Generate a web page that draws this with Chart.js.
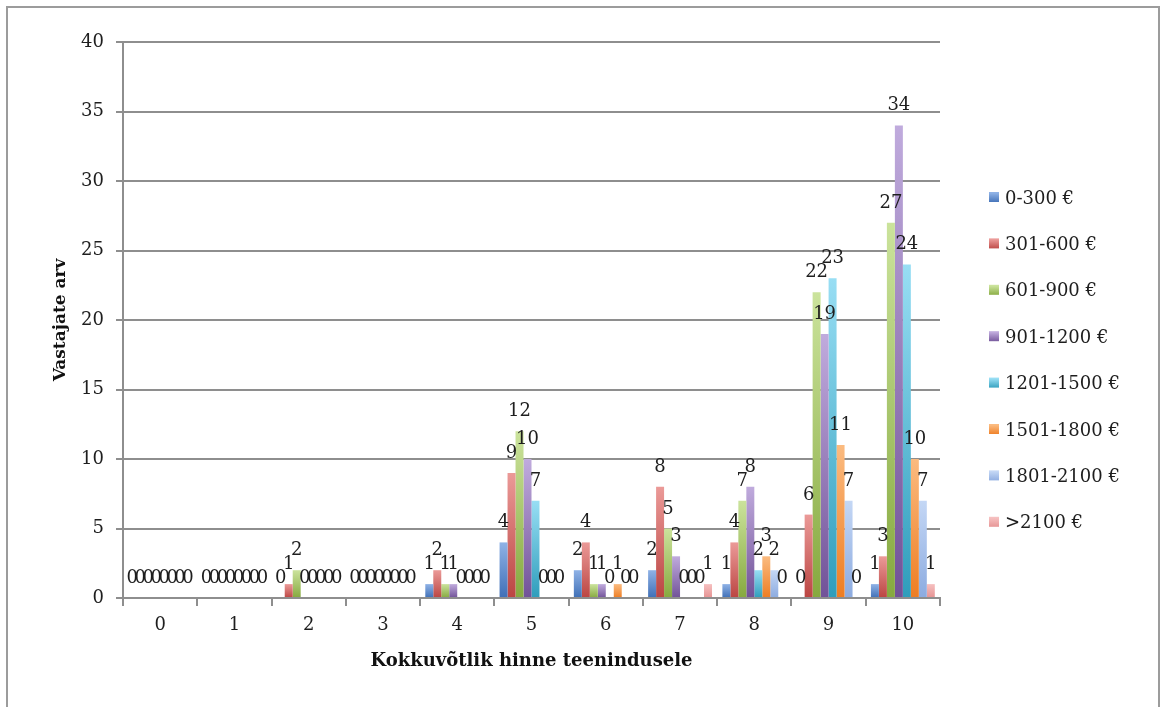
<!DOCTYPE html>
<html>
<head>
<meta charset="utf-8">
<script src="https://cdn.jsdelivr.net/npm/chart.js@4"></script>
<style>
  html, body { margin: 0; padding: 0; background: #fff; }
  #wrap { position: relative; width: 1160px; height: 707px; overflow: hidden; }
  #frame { position: absolute; left: 6px; top: 6px; width: 1150px; height: 760px;
           border: 2px solid #9c9c9c; pointer-events: none; }
</style>
</head>
<body>
<div id="wrap">
  <canvas id="chart" width="1160" height="707"></canvas>
  <div id="frame"></div>
</div>
<script>
  const categories = ['0', '1', '2', '3', '4', '5', '6', '7', '8', '9', '10'];
  const seriesLabels = ['0-300 €', '301-600 €', '601-900 €', '901-1200 €',
    '1201-1500 €', '1501-1800 €', '1801-2100 €', '>2100 €'];

  const s0to300     = [0, 0, 0, 0, 1, 4, 2, 2, 1, 0, 1];
  const s301to600   = [0, 0, 1, 0, 2, 9, 4, 8, 4, 6, 3];
  const s601to900   = [0, 0, 2, 0, 1, 12, 1, 5, 7, 22, 27];
  const s901to1200  = [0, 0, 0, 0, 1, 10, 1, 3, 8, 19, 34];
  const s1201to1500 = [0, 0, 0, 0, 0, 7, 0, 0, 2, 23, 24];
  const s1501to1800 = [0, 0, 0, 0, 0, 0, 1, 0, 3, 11, 10];
  const s1801to2100 = [0, 0, 0, 0, 0, 0, 0, 0, 2, 7, 7];
  const sOver2100   = [0, 0, 0, 0, 0, 0, 0, 1, 0, 0, 1];

  const seriesValues = [s0to300, s301to600, s601to900, s901to1200,
    s1201to1500, s1501to1800, s1801to2100, sOver2100];

  // [light top, saturated bottom] for each bar's vertical shading
  const palette = [
    ['#8fb2e6', '#3f6fb6'],
    ['#eb9a98', '#bb4542'],
    ['#cbe39c', '#86a93f'],
    ['#c0abdd', '#715298'],
    ['#98def4', '#2f9dbb'],
    ['#fbbb80', '#ee7d22'],
    ['#c4d7f5', '#8cabe0'],
    ['#f6c0c0', '#e59292'],
  ];

  const FONT = 'DejaVu Serif';
  const GRID = '#8e8e8e';

  function barFill(ctx) {
    const pair = palette[ctx.datasetIndex];
    const chart = ctx.chart;
    if (ctx.type !== 'data' || !chart.scales || !chart.scales.y) return pair[1];
    const y = chart.scales.y;
    const top = y.getPixelForValue(ctx.raw);
    const bottom = y.getPixelForValue(0);
    if (!isFinite(top) || bottom - top < 1) return pair[1];
    const g = chart.ctx.createLinearGradient(0, top, 0, bottom);
    g.addColorStop(0, pair[0]);
    g.addColorStop(1, pair[1]);
    return g;
  }

  // value printed above every bar, zeros included
  const valueLabels = {
    id: 'valueLabels',
    afterDatasetsDraw(chart) {
      const c = chart.ctx;
      c.save();
      c.font = '18px "' + FONT + '"';
      c.fillStyle = '#1e1e1e';
      c.textAlign = 'center';
      c.textBaseline = 'alphabetic';
      chart.data.datasets.forEach((ds, i) => {
        chart.getDatasetMeta(i).data.forEach((bar, j) => {
          c.fillText(String(ds.data[j]), bar.x, bar.y - 15);
        });
      });
      c.restore();
    }
  };

  // legend column to the right of the plot
  const sideLegend = {
    id: 'sideLegend',
    afterDraw(chart) {
      const c = chart.ctx;
      const x0 = 989, y0 = 198, step = 46.4;
      c.save();
      c.font = '18px "' + FONT + '"';
      c.textBaseline = 'middle';
      c.textAlign = 'left';
      chart.data.datasets.forEach((ds, i) => {
        const y = y0 + i * step;
        const g = c.createLinearGradient(0, y - 5, 0, y + 5);
        g.addColorStop(0, palette[i][0]);
        g.addColorStop(1, palette[i][1]);
        c.fillStyle = g;
        c.fillRect(x0, y - 6, 10, 10);
        c.fillStyle = '#1e1e1e';
        c.fillText(ds.label, x0 + 16, y + 1);
      });
      c.restore();
    }
  };

  new Chart(document.getElementById('chart'), {
    type: 'bar',
    data: {
      labels: categories,
      datasets: seriesValues.map((vals, i) => ({
        label: seriesLabels[i],
        data: vals,
        backgroundColor: barFill,
        borderWidth: 0,
        barPercentage: 1,
        categoryPercentage: 0.86,
      })),
    },
    options: {
      responsive: false,
      animation: false,
      devicePixelRatio: 1,
      layout: { padding: { top: 42, left: 50, right: 220, bottom: 0 } },
      plugins: {
        legend: { display: false },
        tooltip: { enabled: false },
      },
      scales: {
        y: {
          min: 0, max: 40,
          ticks: { stepSize: 5, color: '#1e1e1e', padding: 12, font: { family: FONT, size: 18 } },
          grid: { color: GRID, lineWidth: 2, tickLength: 7 },
          border: { color: GRID, width: 2 },
          title: {
            display: true, text: 'Vastajate arv', color: '#111',
            padding: { top: 0, bottom: 0 },
            font: { family: FONT, size: 17, weight: 'bold' },
          },
          afterFit(s) { s.width = 73; },
        },
        x: {
          ticks: { color: '#1e1e1e', padding: 9, font: { family: FONT, size: 18 } },
          grid: { drawOnChartArea: false, color: GRID, lineWidth: 2, tickLength: 8 },
          border: { color: GRID, width: 2 },
          title: {
            display: true, text: 'Kokkuvõtlik hinne teenindusele', color: '#111',
            padding: { top: 0, bottom: 35 },
            font: { family: FONT, size: 18, weight: 'bold' },
          },
          afterFit(s) { s.height = 109; },
        },
      },
    },
    plugins: [valueLabels, sideLegend],
  });
</script>
</body>
</html>
